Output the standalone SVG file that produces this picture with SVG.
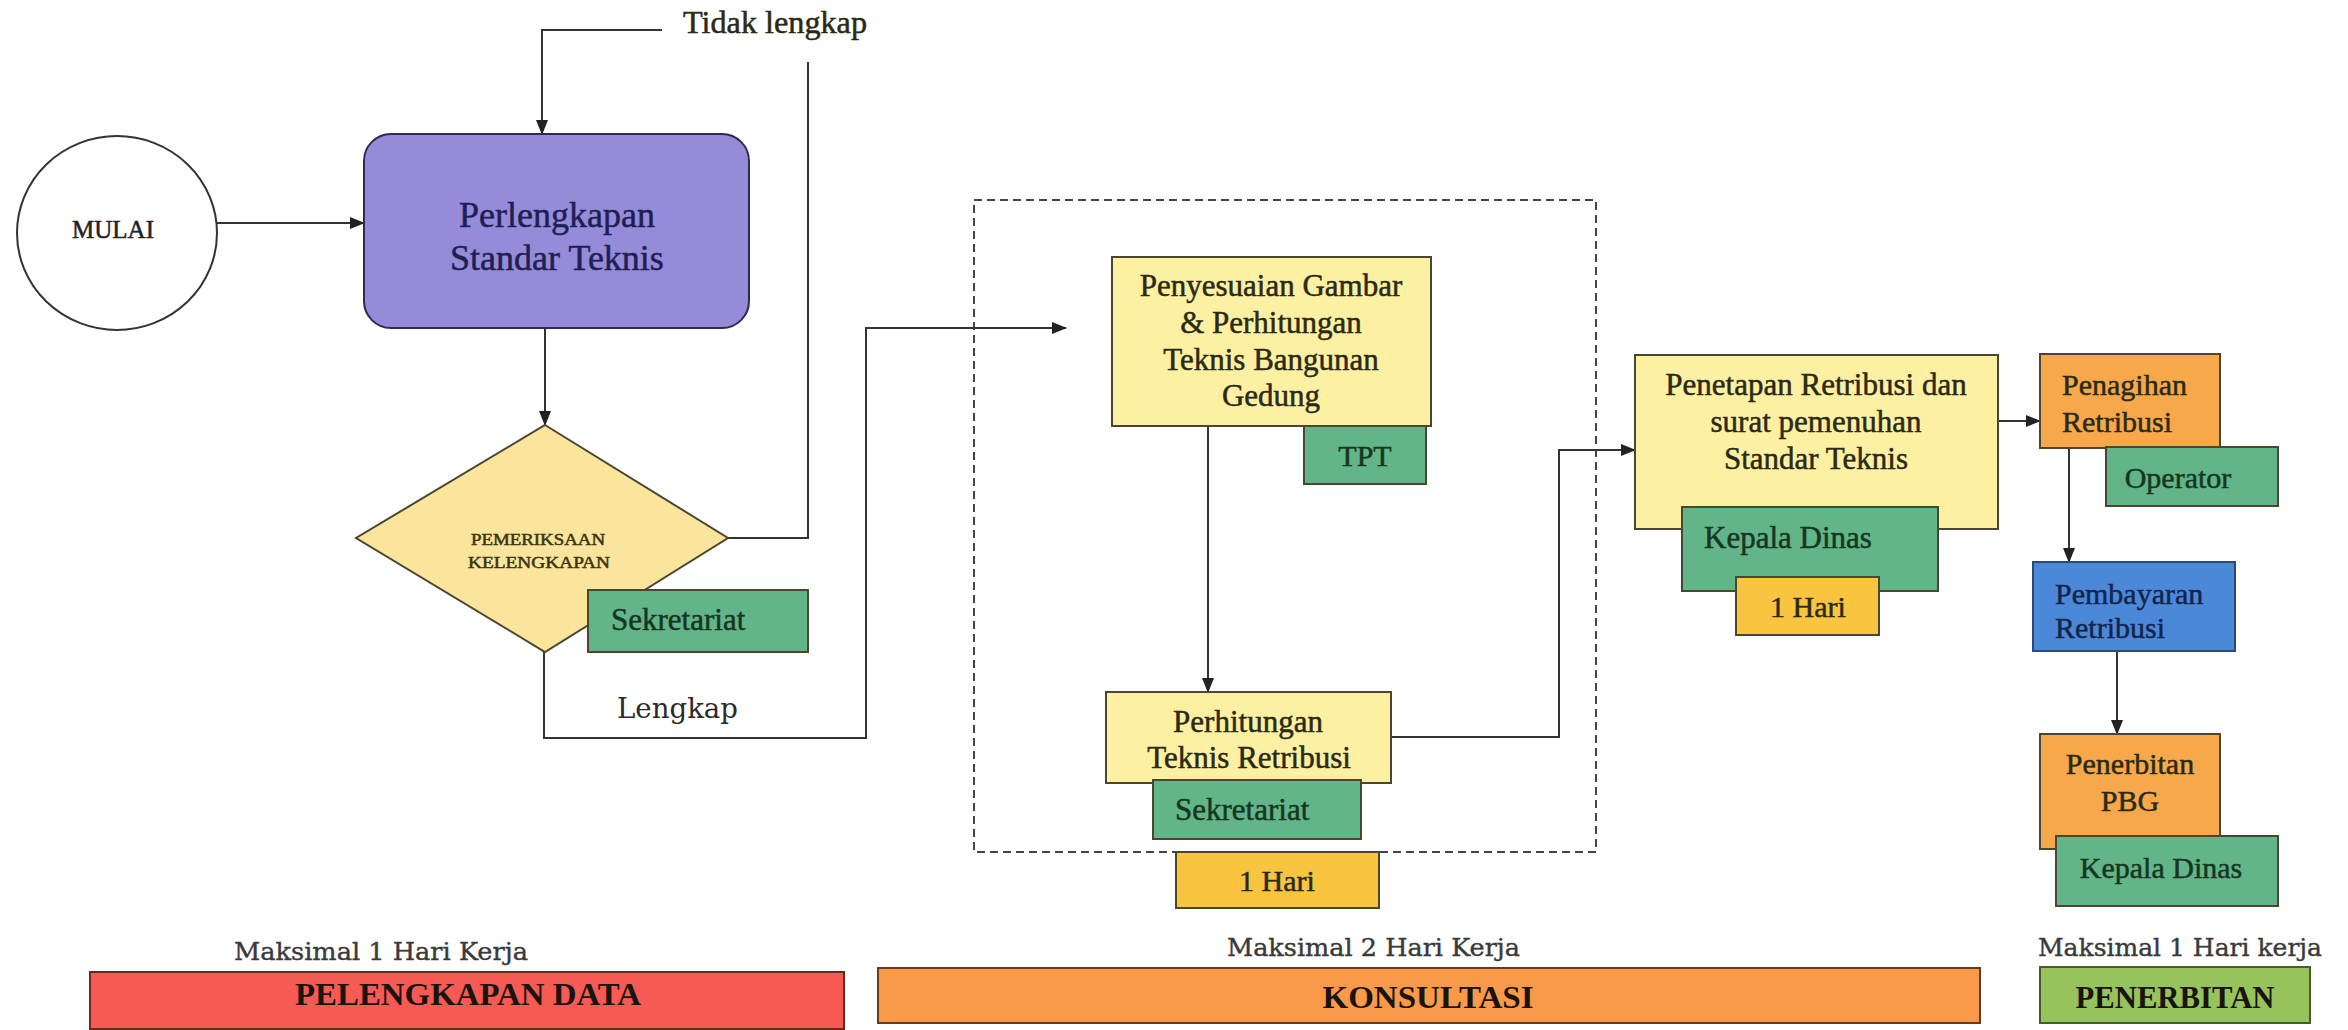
<svg xmlns="http://www.w3.org/2000/svg" width="2348" height="1030" viewBox="0 0 2348 1030">
<defs>
<marker id="ah" markerWidth="15" markerHeight="12" refX="14" refY="6" orient="auto" markerUnits="userSpaceOnUse">
<path d="M0,0 L15,6 L0,12 z" fill="#222"/>
</marker>
<style>
.t{font-family:"Liberation Serif","Times New Roman",serif;color:#2a2a14;fill:currentColor;stroke:currentColor;stroke-width:0.5}
.c{text-anchor:middle}
.box{stroke:#4a4630;stroke-width:2}
.yel{fill:#fdf0a2}
.grn{fill:#62b489}
.gold{fill:#f9c43f}
.org{fill:#f7a84a}
.gt{color:#17361f}
.ln{fill:none;stroke:#333;stroke-width:2}
.mx{font-family:"DejaVu Serif","Liberation Serif",serif;font-size:25px;fill:#3a3a3a;stroke:#3a3a3a;stroke-width:0.4}
.bar{font-family:"Liberation Serif","Times New Roman",serif;font-weight:bold;font-size:32px;fill:#1a1410;text-anchor:middle}
</style>
</defs>
<rect width="2348" height="1030" fill="#ffffff"/>

<g id="frame-konsultasi">
<rect x="974" y="200" width="622" height="652" fill="none" stroke="#444" stroke-width="2" stroke-dasharray="8 5"/>
</g>

<g id="connectors">
<path class="ln" d="M217,223 L364,223" marker-end="url(#ah)"/>
<path class="ln" d="M545,328 L545,425" marker-end="url(#ah)"/>
<path class="ln" d="M728,538 L808,538 L808,62"/>
<path class="ln" d="M662,30 L542,30 L542,134" marker-end="url(#ah)"/>
<path class="ln" d="M544,652 L544,738 L866,738 L866,328 L1066,328" marker-end="url(#ah)"/>
<path class="ln" d="M1208,426 L1208,692" marker-end="url(#ah)"/>
<path class="ln" d="M1391,737 L1559,737 L1559,450 L1635,450" marker-end="url(#ah)"/>
<path class="ln" d="M1998,421 L2040,421" marker-end="url(#ah)"/>
<path class="ln" d="M2069,448 L2069,562" marker-end="url(#ah)"/>
<path class="ln" d="M2117,651 L2117,734" marker-end="url(#ah)"/>
</g>

<g id="label-tidak-lengkap">
<text class="t" x="683" y="33" font-size="31" textLength="184" lengthAdjust="spacingAndGlyphs">Tidak lengkap</text>
</g>
<g id="label-lengkap">
<text x="617" y="718" font-family="DejaVu Serif, Liberation Serif, serif" font-size="28" fill="#2a2a2a" textLength="121" lengthAdjust="spacingAndGlyphs">Lengkap</text>
</g>

<g id="node-mulai">
<ellipse cx="117" cy="233" rx="100" ry="97" fill="#ffffff" stroke="#333" stroke-width="2"/>
<text class="t c" x="113" y="238" font-size="25" style="color:#222">MULAI</text>
</g>

<g id="node-perlengkapan">
<rect x="364" y="134" width="385" height="194" rx="27" fill="#958bd8" stroke="#2e2a55" stroke-width="2"/>
<text class="t c" x="557" y="227" font-size="36" style="color:#1f1f55">Perlengkapan</text>
<text class="t c" x="557" y="270" font-size="36" style="color:#1f1f55">Standar Teknis</text>
</g>

<g id="node-pemeriksaan">
<polygon points="545,425 728,538 545,652 356,538" fill="#fbe49b" stroke="#4a4630" stroke-width="2"/>
<text class="t c" x="538" y="545" font-size="16" textLength="134" lengthAdjust="spacingAndGlyphs" style="color:#3a3510">PEMERIKSAAN</text>
<text class="t c" x="539" y="568" font-size="16" textLength="142" lengthAdjust="spacingAndGlyphs" style="color:#3a3510">KELENGKAPAN</text>
<rect class="box grn" x="588" y="590" width="220" height="62"/>
<text class="t gt" x="611" y="630" font-size="31">Sekretariat</text>
</g>

<g id="node-penyesuaian">
<rect class="box yel" x="1112" y="257" width="319" height="169"/>
<text class="t c" x="1271" y="296" font-size="31">Penyesuaian Gambar</text>
<text class="t c" x="1271" y="333" font-size="31">&amp; Perhitungan</text>
<text class="t c" x="1271" y="370" font-size="31">Teknis Bangunan</text>
<text class="t c" x="1271" y="406" font-size="31">Gedung</text>
<rect class="box grn" x="1304" y="426" width="122" height="58"/>
<text class="t c gt" x="1365" y="466" font-size="30">TPT</text>
</g>

<g id="node-perhitungan">
<rect class="box yel" x="1106" y="692" width="285" height="91"/>
<text class="t c" x="1248" y="732" font-size="31">Perhitungan</text>
<text class="t c" x="1249" y="768" font-size="31">Teknis Retribusi</text>
<rect class="box grn" x="1153" y="780" width="208" height="59"/>
<text class="t gt" x="1175" y="820" font-size="31">Sekretariat</text>
<rect class="box gold" x="1176" y="852" width="203" height="56"/>
<text class="t c" x="1277" y="891" font-size="30">1 Hari</text>
</g>

<g id="node-penetapan">
<rect class="box yel" x="1635" y="355" width="363" height="174"/>
<text class="t c" x="1816" y="395" font-size="31">Penetapan Retribusi dan</text>
<text class="t c" x="1816" y="432" font-size="31">surat pemenuhan</text>
<text class="t c" x="1816" y="469" font-size="31">Standar Teknis</text>
<rect class="box grn" x="1682" y="507" width="256" height="84"/>
<text class="t gt" x="1704" y="548" font-size="31">Kepala Dinas</text>
<rect class="box gold" x="1736" y="577" width="143" height="58"/>
<text class="t c" x="1808" y="617" font-size="30">1 Hari</text>
</g>

<g id="node-penagihan">
<rect class="box org" x="2040" y="354" width="180" height="94"/>
<text class="t" x="2062" y="395" font-size="30">Penagihan</text>
<text class="t" x="2062" y="432" font-size="30">Retribusi</text>
<rect class="box grn" x="2106" y="447" width="172" height="59"/>
<text class="t c gt" x="2178" y="488" font-size="30">Operator</text>
</g>

<g id="node-pembayaran">
<rect x="2033" y="562" width="202" height="89" fill="#4b88d8" stroke="#2c4a78" stroke-width="2"/>
<text class="t" x="2055" y="604" font-size="30" style="color:#14244a">Pembayaran</text>
<text class="t" x="2055" y="638" font-size="30" style="color:#14244a">Retribusi</text>
</g>

<g id="node-penerbitan">
<rect class="box org" x="2040" y="734" width="180" height="115"/>
<text class="t c" x="2130" y="774" font-size="30">Penerbitan</text>
<text class="t c" x="2130" y="811" font-size="30">PBG</text>
<rect class="box grn" x="2056" y="836" width="222" height="70"/>
<text class="t c gt" x="2161" y="878" font-size="30">Kepala Dinas</text>
</g>

<g id="phase-pelengkapan">
<text class="mx" x="234" y="960" textLength="294" lengthAdjust="spacingAndGlyphs">Maksimal 1 Hari Kerja</text>
<rect x="90" y="972" width="754" height="57" fill="#f75a52" stroke="#6a2a20" stroke-width="2"/>
<text class="bar" x="468" y="1005" textLength="346" lengthAdjust="spacingAndGlyphs">PELENGKAPAN DATA</text>
</g>

<g id="phase-konsultasi">
<text class="mx" x="1227" y="956" textLength="293" lengthAdjust="spacingAndGlyphs">Maksimal 2 Hari Kerja</text>
<rect x="878" y="968" width="1102" height="55" fill="#f99a4a" stroke="#6a3a20" stroke-width="2"/>
<text class="bar" x="1428" y="1008" textLength="211" lengthAdjust="spacingAndGlyphs">KONSULTASI</text>
</g>

<g id="phase-penerbitan">
<text class="mx" x="2038" y="956" textLength="284" lengthAdjust="spacingAndGlyphs">Maksimal 1 Hari kerja</text>
<rect x="2040" y="967" width="270" height="56" fill="#96c35c" stroke="#4a5a30" stroke-width="2"/>
<text class="bar" x="2175" y="1008" textLength="199" lengthAdjust="spacingAndGlyphs">PENERBITAN</text>
</g>
</svg>
